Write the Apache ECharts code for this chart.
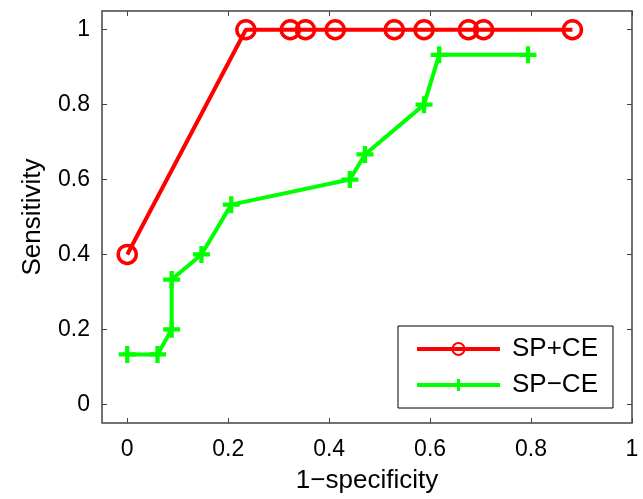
<!DOCTYPE html>
<html>
<head>
<meta charset="utf-8">
<script src="https://cdn.jsdelivr.net/npm/echarts@6/dist/echarts.min.js"></script>
<style>
  html, body { margin: 0; padding: 0; background: #fff; }
  #chart { width: 643px; height: 499px; }
</style>
</head>
<body>
<div id="chart"></div>
<script>
const spceX = [0, 0.235, 0.323, 0.353, 0.412, 0.529, 0.588, 0.676, 0.706, 0.882];
const spceY = [0.4, 1, 1, 1, 1, 1, 1, 1, 1, 1];
const spmX = [0, 0.06, 0.088, 0.088, 0.147, 0.206, 0.441, 0.471, 0.588, 0.618, 0.794];
const spmY = [0.133, 0.133, 0.2, 0.333, 0.4, 0.533, 0.6, 0.667, 0.8, 0.933, 0.933];
const xTicks = [0, 0.2, 0.4, 0.6, 0.8, 1];
const yTicks = [0, 0.2, 0.4, 0.6, 0.8, 1];

const FONT = 'Liberation Sans';
const plusPath = 'path://M-2,-8H2V-2H8V2H2V8H-2V2H-8V-2H-2Z';

function zip(xs, ys) {
    return xs.map((x, i) => [x, ys[i]]);
}

const chart = echarts.init(document.getElementById('chart'));

function ticks(vals) {
    return { show: true, inside: true, length: 5, customValues: vals, lineStyle: { color: '#444', width: 1 } };
}
const noLine = { show: false, onZero: false };

chart.setOption({
    animation: false,
    grid: { left: 102, top: 11, right: 11, bottom: 75, show: true, borderColor: '#444', borderWidth: 1.5 },
    xAxis: [{
        type: 'value', min: -0.05, max: 1,
        name: '1\u2212specificity', nameLocation: 'middle', nameGap: 45,
        nameTextStyle: { fontFamily: FONT, fontSize: 26, color: '#000' },
        axisLine: noLine,
        splitLine: { show: false },
        axisTick: ticks(xTicks),
        axisLabel: { customValues: xTicks, margin: 15, fontFamily: FONT, fontSize: 23, color: '#000' }
    }, {
        type: 'value', min: -0.05, max: 1, position: 'top',
        axisLine: noLine, splitLine: { show: false },
        axisTick: ticks(xTicks),
        axisLabel: { show: false }
    }],
    yAxis: [{
        type: 'value', min: -0.05, max: 1.05,
        name: 'Sensitivity', nameLocation: 'middle', nameGap: 56,
        nameTextStyle: { fontFamily: FONT, fontSize: 26, color: '#000' },
        axisLine: noLine, splitLine: { show: false },
        axisTick: ticks(yTicks),
        axisLabel: { customValues: yTicks, margin: 12, fontFamily: FONT, fontSize: 23, color: '#000' }
    }, {
        type: 'value', min: -0.05, max: 1.05, position: 'right',
        axisLine: noLine, splitLine: { show: false },
        axisTick: ticks(yTicks),
        axisLabel: { show: false }
    }],
    legend: {
        orient: 'vertical',
        left: 398, top: 326,
        padding: [10, 15, 10, 17],
        itemGap: 10,
        itemWidth: 83, itemHeight: 15,
        borderColor: '#000', borderWidth: 1,
        lineStyle: { width: 4 },
        textStyle: { fontFamily: FONT, fontSize: 26, color: '#000', padding: [0, 0, 0, 7] },
        data: ['SP+CE', 'SP\u2212CE']
    },
    series: [{
        name: 'SP+CE', type: 'line',
        data: zip(spceX, spceY),
        symbol: 'circle', symbolSize: 18,
        lineStyle: { color: '#ff0000', width: 4 },
        itemStyle: { color: 'transparent', borderColor: '#ff0000', borderWidth: 3.5 },
        z: 3
    }, {
        name: 'SP\u2212CE', type: 'line',
        data: zip(spmX, spmY),
        symbol: plusPath, symbolSize: 17,
        lineStyle: { color: '#00ff00', width: 4 },
        itemStyle: { color: '#00ff00' },
        z: 2
    }]
});
</script>
</body>
</html>
